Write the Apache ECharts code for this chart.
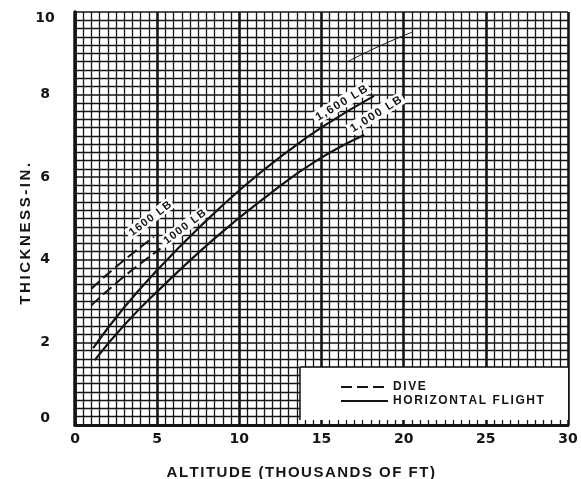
<!DOCTYPE html>
<html>
<head>
<meta charset="utf-8">
<script src="https://cdn.jsdelivr.net/npm/echarts@6/dist/echarts.min.js"></script>
<style>
  html, body { margin: 0; padding: 0; background: #fff; }
  #chart { width: 581px; height: 479px; }
</style>
</head>
<body>
<div id="chart"></div>
<script>
// Armor thickness needed against bomb fragments, by release altitude.
// Each curve is a list of [altitude (thousands of ft), thickness (in.)] points.
const dive1600 = [[1.0, 3.30], [2.5, 3.83], [4.8, 4.56]];
const dive1000 = [[1.0, 2.90], [3.0, 3.60], [5.2, 4.27]];
const level1600 = [[1.1, 1.86], [3.0, 2.85], [5.0, 3.75], [7.6, 4.80], [10.2, 5.75], [12.7, 6.55], [15.1, 7.23], [18.2, 7.97]];
const level1000 = [[1.2, 1.57], [3.0, 2.42], [5.0, 3.23], [8.5, 4.52], [11.7, 5.55], [14.7, 6.40], [17.6, 7.02]];
const faintTrace = [[16.55, 8.79], [18.5, 9.17], [20.5, 9.51]];

const xTicks = [0, 5, 10, 15, 20, 25, 30];
const yTicks = [0, 2, 4, 6, 8, 10];
const seriesNames = ['DIVE', 'HORIZONTAL FLIGHT'];
const curveLabels = {
  dive1600: '1600 LB',
  dive1000: '1000 LB',
  level1600: '1,600 LB',
  level1000: '1,000 LB'
};

const INK = '#141414';
const DIGIT_FONT = '"DejaVu Sans", "Liberation Sans", sans-serif';
const LETTER_FONT = '"Liberation Sans", Arimo, "DejaVu Sans", sans-serif';

// Lettering is spread out: each character becomes its own rich-text run
// so a little padding can be added after it.
function spaced(text) {
  return text.split('').map(function (ch) { return '{s|' + ch + '}'; }).join('');
}
function spacedStyle(size, gap) {
  return {
    s: {
      color: INK, fontFamily: LETTER_FONT, fontWeight: 'bold',
      fontSize: size, padding: [0, gap, 0, 0]
    }
  };
}

function tagLabel(text, coord, angle, size, gap) {
  return {
    coord: coord,
    symbol: 'rect',
    symbolSize: 1,
    itemStyle: { color: 'rgba(0,0,0,0)' },
    label: {
      show: true,
      position: 'inside',
      formatter: spaced(text),
      rich: spacedStyle(size, gap),
      rotate: angle,
      backgroundColor: '#fff',
      padding: [1, 1, 0, 3]
    }
  };
}

const chart = echarts.init(document.getElementById('chart'), null, { renderer: 'canvas' });

chart.setOption({
  animation: false,
  backgroundColor: '#fff',
  grid: { left: 75, right: 13, top: 12, bottom: 54, outerBoundsMode: 'none' },
  xAxis: {
    type: 'value',
    min: xTicks[0],
    max: xTicks[xTicks.length - 1],
    interval: xTicks[1] - xTicks[0],
    name: spaced('ALTITUDE (THOUSANDS OF FT)'),
    nameLocation: 'middle',
    nameGap: 40,
    nameTextStyle: {
      padding: [0, 40, 0, 0],
      rich: spacedStyle(15, 1.5)
    },
    axisLine: { show: true, lineStyle: { color: INK, width: 3 } },
    axisTick: { show: false },
    axisLabel: {
      color: INK, fontFamily: DIGIT_FONT, fontWeight: 'bold', fontSize: 14, margin: 7
    },
    splitLine: { show: true, lineStyle: { color: INK, width: 2.6 } },
    minorTick: { show: false, splitNumber: 10 },
    minorSplitLine: { show: true, lineStyle: { color: INK, width: 1.3 } }
  },
  yAxis: {
    type: 'value',
    min: yTicks[0],
    max: yTicks[yTicks.length - 1],
    interval: yTicks[1] - yTicks[0],
    name: spaced('THICKNESS-IN.'),
    nameLocation: 'middle',
    nameGap: 42,
    nameMoveOverlap: false,
    nameRotate: 90,
    nameTextStyle: {
      padding: [0, 28, 0, 0],
      rich: spacedStyle(15, 2.6)
    },
    axisLine: { show: true, lineStyle: { color: INK, width: 3.5 } },
    axisTick: { show: false },
    axisLabel: {
      color: INK, fontFamily: DIGIT_FONT, fontWeight: 'bold', fontSize: 14,
      margin: 30, align: 'center',
      formatter: function (v) {
        if (v === yTicks[0]) return '{lo|' + v + '}';
        if (v === yTicks[yTicks.length - 1]) return '{hi|' + v + '}';
        return String(v);
      },
      rich: {
        lo: { fontFamily: DIGIT_FONT, fontWeight: 'bold', fontSize: 14, color: INK, padding: [0, 0, 14, 0] },
        hi: { fontFamily: DIGIT_FONT, fontWeight: 'bold', fontSize: 14, color: INK, padding: [12, 0, 0, 0] }
      }
    },
    splitLine: { show: true, lineStyle: { color: INK, width: 1.5 } },
    minorTick: { show: false, splitNumber: 10 },
    minorSplitLine: { show: true, lineStyle: { color: INK, width: 1.3 } }
  },
  legend: {
    data: seriesNames,
    orient: 'vertical',
    left: 335,
    top: 376,
    itemWidth: 47,
    itemHeight: 10,
    itemGap: 2,
    selectedMode: false,
    itemStyle: { opacity: 0 },
    formatter: function (name) { return spaced(name); },
    textStyle: { rich: spacedStyle(12, 1.6) }
  },
  series: [
    {
      name: seriesNames[0],
      type: 'line',
      data: dive1600,
      smooth: true,
      symbol: 'none',
      itemStyle: { color: INK },
      lineStyle: { color: INK, width: 2, type: [11, 5] },
      markPoint: { data: [tagLabel(curveLabels.dive1600, [4.55, 5.0], 37, 11, 1.3)] },
      z: 5
    },
    {
      name: seriesNames[0],
      type: 'line',
      data: dive1000,
      smooth: true,
      symbol: 'none',
      itemStyle: { color: INK },
      lineStyle: { color: INK, width: 2, type: [11, 5] },
      markPoint: { data: [tagLabel(curveLabels.dive1000, [6.65, 4.8], 37, 11, 1.3)] },
      z: 5
    },
    {
      name: seriesNames[1],
      type: 'line',
      data: level1600,
      smooth: true,
      symbol: 'none',
      itemStyle: { color: INK },
      lineStyle: { color: INK, width: 2.2 },
      markPoint: { data: [tagLabel(curveLabels.level1600, [16.2, 7.8], 31, 11.5, 1.6)] },
      // white panel holding the legend, lower right of the grid
      markArea: {
        silent: true,
        itemStyle: { color: '#fff' },
        data: [[{ coord: [13.7, 0.12] }, { coord: [30, 1.4] }]]
      },
      markLine: {
        silent: true,
        symbol: 'none',
        label: { show: false },
        lineStyle: { color: INK, width: 1.5, type: 'solid' },
        data: [
          [{ coord: [13.7, 0.12] }, { coord: [13.7, 1.4] }],
          [{ coord: [13.7, 1.4] }, { coord: [30, 1.4] }]
        ]
      },
      z: 5
    },
    {
      name: seriesNames[1],
      type: 'line',
      data: level1000,
      smooth: true,
      symbol: 'none',
      itemStyle: { color: INK },
      lineStyle: { color: INK, width: 2.2 },
      markPoint: { data: [tagLabel(curveLabels.level1000, [18.3, 7.53], 32, 11.5, 1.6)] },
      z: 5
    },
    {
      name: 'trace',
      type: 'line',
      data: faintTrace,
      smooth: true,
      symbol: 'none',
      itemStyle: { color: INK },
      lineStyle: { color: INK, width: 1 },
      z: 5
    }
  ]
});
</script>
</body>
</html>
